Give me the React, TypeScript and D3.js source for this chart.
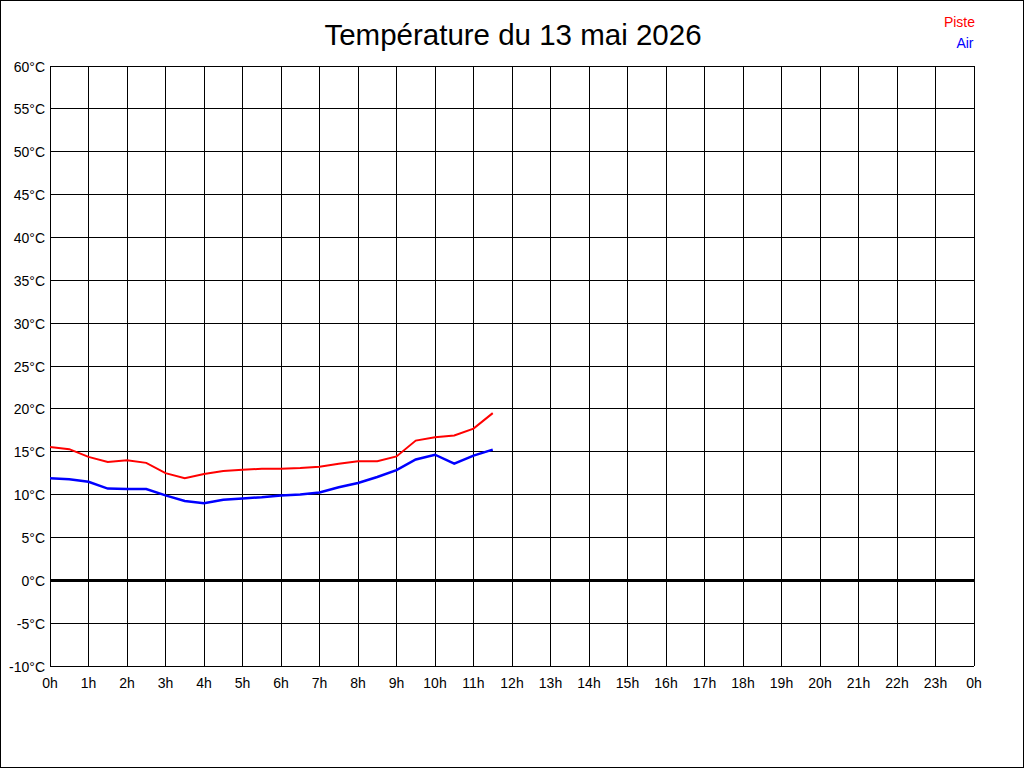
import * as React from 'react'
import * as d3 from 'd3'

// relevés toutes les 30 min
const hours = [0, 0.5, 1, 1.5, 2, 2.5, 3, 3.5, 4, 4.5, 5, 5.5, 6, 6.5, 7, 7.5, 8, 8.5, 9, 9.5, 10, 10.5, 11, 11.5]
const piste = [15.55, 15.3, 14.4, 13.8, 14.0, 13.7, 12.5, 11.9, 12.4, 12.75, 12.9, 13.0, 13.0, 13.1, 13.25, 13.6, 13.9, 13.9, 14.45, 16.3, 16.7, 16.9, 17.7, 19.5]
const air = [11.9, 11.8, 11.5, 10.7, 10.65, 10.65, 9.9, 9.25, 9.0, 9.4, 9.55, 9.7, 9.9, 10.0, 10.25, 10.85, 11.35, 12.05, 12.85, 14.1, 14.65, 13.6, 14.55, 15.25]

const yTicks = [-10, -5, 0, 5, 10, 15, 20, 25, 30, 35, 40, 45, 50, 55, 60]
const xTicks = [0, 1, 2, 3, 4, 5, 6, 7, 8, 9, 10, 11, 12, 13, 14, 15, 16, 17, 18, 19, 20, 21, 22, 23, 24]
const xTickLabels = ['0h', '1h', '2h', '3h', '4h', '5h', '6h', '7h', '8h', '9h', '10h', '11h', '12h', '13h', '14h', '15h', '16h', '17h', '18h', '19h', '20h', '21h', '22h', '23h', '0h']

const W = 1024
const H = 768
const FONT = '"Liberation Sans", Arial, sans-serif'

export default function App() {
    const x = d3.scaleLinear().domain([0, 24]).range([50, 974])
    const y = d3.scaleLinear().domain([-10, 60]).range([666, 66])

    const line = d3.line<number>()
        .x((_, i) => x(hours[i]))
        .y(d => y(d))

    return <svg width={W} height={H} style={{ position: 'absolute', left: 0, top: 0, background: '#fff' }}>
        <rect x={0.5} y={0.5} width={W - 1} height={H - 1} fill='#fff' stroke='#000' strokeWidth={1} />
        <text x={513} y={45} textAnchor='middle' fontFamily={FONT} fontSize={29.5} fill='#000'>
            Température du 13 mai 2026
        </text>
        <text x={975} y={26.5} textAnchor='end' fontFamily={FONT} fontSize={14} fill='#ff0000'>Piste</text>
        <text x={973.5} y={48} textAnchor='end' fontFamily={FONT} fontSize={14} fill='#0000ff'>Air</text>

        <g shapeRendering='crispEdges' stroke='#000' strokeWidth={1}>
            {yTicks.map(t => (
                <line key={'y' + t} x1={x(0)} x2={x(24)} y1={y(t)} y2={y(t)} />
            ))}
            {xTicks.map(t => (
                <line key={'x' + t} x1={x(t)} x2={x(t)} y1={y(60)} y2={y(-10)} />
            ))}
            <line x1={x(0)} x2={x(24)} y1={y(0)} y2={y(0)} strokeWidth={3} />
        </g>

        <g fontFamily={FONT} fontSize={14} fill='#000'>
            {yTicks.map(t => (
                <text key={'yl' + t} x={45} y={y(t) + 5.5} textAnchor='end'>{t}°C</text>
            ))}
            {xTicks.map((t, i) => (
                <text key={'xl' + t} x={x(t)} y={688} textAnchor='middle'>{xTickLabels[i]}</text>
            ))}
        </g>

        <path d={line(piste) || ''} fill='none' stroke='#ff0000' strokeWidth={2} />
        <path d={line(air) || ''} fill='none' stroke='#0000ff' strokeWidth={2.5} />
    </svg>
}
